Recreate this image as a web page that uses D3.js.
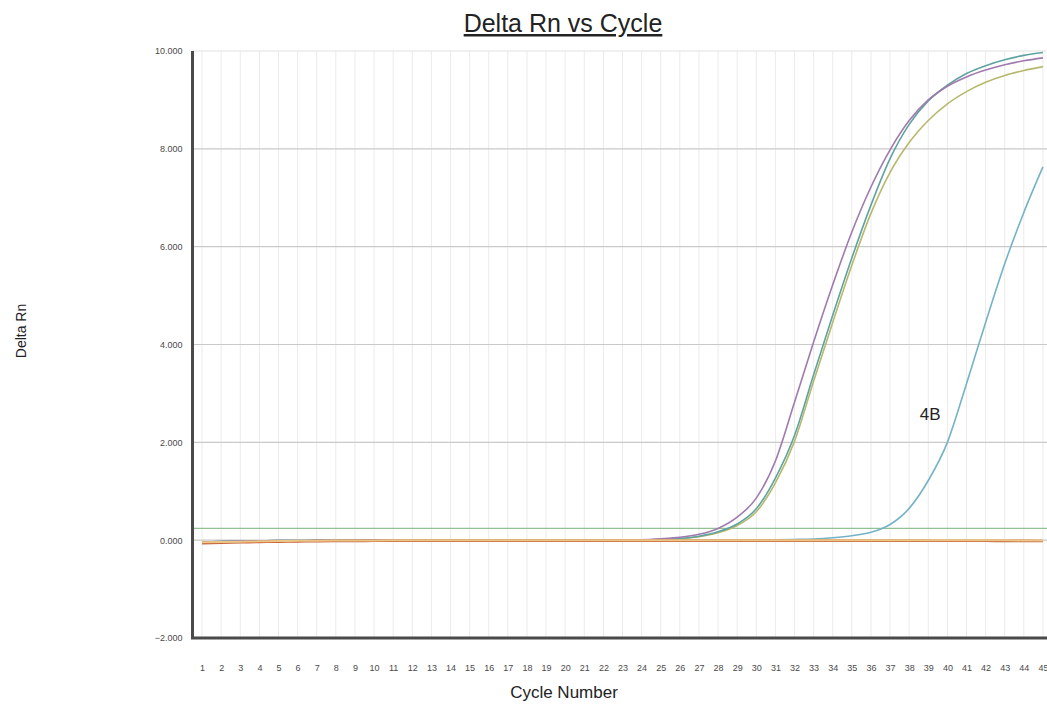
<!DOCTYPE html>
<html>
<head>
<meta charset="utf-8">
<script src="https://cdn.jsdelivr.net/npm/d3@7"></script>
<style>
  body { margin: 0; background: #fff; }
  text { font-family: "Liberation Sans", Arial, sans-serif; }
</style>
</head>
<body>
<div id="chart"></div>
<script>
// cycle numbers on the x axis
var cycles = d3.range(1, 46);
var yTicks = [-2, 0, 2, 4, 6, 8, 10];
var threshold = 0.24;

// amplification curves (Delta Rn per cycle)
var purpleRn = [-0.04,-0.03,-0.02,-0.015,-0.01,-0.01,-0.005,-0.005,0,0,
  0,0,0,0,0, 0,0,0,0,0, 0,0,0.005,0.01,0.03,
  0.06,0.12,0.24,0.47,0.86, 1.62,2.82,4.05,5.22,6.3,
  7.22,7.98,8.58,9.0,9.28, 9.47,9.61,9.72,9.8,9.86];

var tealRn = [-0.04,-0.03,-0.02,-0.015,-0.01,-0.01,-0.005,-0.005,0,0,
  0,0,0,0,0, 0,0,0,0,0, 0,0,0,0.005,0.015,
  0.035,0.08,0.17,0.33,0.64, 1.27,2.14,3.38,4.6,5.77,
  6.85,7.8,8.5,8.98,9.3, 9.54,9.7,9.82,9.91,9.97];

var oliveRn = [-0.04,-0.03,-0.02,-0.015,-0.01,-0.01,-0.005,-0.005,0,0,
  0,0,0,0,0, 0,0,0,0,0, 0,0,0,0.005,0.012,
  0.03,0.07,0.15,0.3,0.58, 1.17,2.02,3.25,4.45,5.62,
  6.68,7.52,8.13,8.58,8.92, 9.17,9.36,9.5,9.6,9.68];

var blue4BRn = [-0.04,-0.03,-0.02,-0.015,-0.01,-0.01,-0.005,-0.005,0,0,
  0,0,0,0,0, 0,0,0,0,0, 0,0,0,0,0,
  0,0,0,0,0.005, 0.01,0.015,0.025,0.05,0.09,
  0.16,0.32,0.65,1.22,2.0, 3.2,4.45,5.65,6.7,7.63];

// flat (negative) wells
var orangeRn = [-0.06,-0.052,-0.044,-0.036,-0.03,-0.025,-0.02,-0.018,-0.015,-0.013,
  -0.012,-0.011,-0.01,-0.01,-0.01, -0.01,-0.01,-0.01,-0.01,-0.01,
  -0.01,-0.01,-0.01,-0.01,-0.01, -0.01,-0.01,-0.01,-0.01,-0.01,
  -0.01,-0.01,-0.01,-0.01,-0.01, -0.01,-0.01,-0.01,-0.01,-0.012,
  -0.012,-0.013,-0.014,-0.015,-0.016];

var yellowRn = [-0.045,-0.038,-0.03,-0.024,-0.018,-0.014,-0.01,-0.008,-0.006,-0.005,
  -0.004,-0.003,-0.003,-0.003,-0.003, -0.003,-0.003,-0.003,-0.003,-0.003,
  -0.003,-0.003,-0.003,-0.003,-0.003, -0.003,-0.003,-0.003,-0.003,-0.003,
  -0.003,-0.003,-0.003,-0.003,-0.003, -0.003,-0.003,-0.003,-0.003,-0.003,
  -0.003,-0.004,-0.004,-0.005,-0.005];

// drawn in this order, flat wells on top
var series = [
  { name: "4B", values: blue4BRn, color: "#74b3c6", width: 1.6 },
  { name: "olive", values: oliveRn, color: "#b7b86c", width: 1.6 },
  { name: "teal", values: tealRn, color: "#5fa3a0", width: 1.6 },
  { name: "purple", values: purpleRn, color: "#a07aae", width: 1.6 },
  { name: "orange", values: orangeRn, color: "#c8643a", width: 2.6 },
  { name: "yellow", values: yellowRn, color: "#ebc687", width: 2 }
];

var svgWidth = 1047;
var svgHeight = 704;

var margin = { top: 51, left: 192.5 };
var width = 860;
var height = 587;

var svg = d3.select("#chart")
  .append("svg")
  .attr("width", svgWidth)
  .attr("height", svgHeight);

var chartGroup = svg.append("g")
  .attr("transform", `translate(${margin.left}, ${margin.top})`);

var x = d3.scaleLinear()
  .domain([0.5, 45.5])
  .range([0, width]);

var y = d3.scaleLinear()
  .domain([-2, 10])
  .range([height, 0]);

// vertical grid (one per cycle)
chartGroup.append("g")
  .selectAll("line")
  .data(cycles)
  .enter()
  .append("line")
  .attr("x1", d => x(d))
  .attr("x2", d => x(d))
  .attr("y1", 0)
  .attr("y2", height)
  .attr("stroke", "#ebebeb")
  .attr("stroke-width", 1);

// horizontal grid
chartGroup.append("g")
  .selectAll("line")
  .data(yTicks.filter(d => d > -2))
  .enter()
  .append("line")
  .attr("x1", 0)
  .attr("x2", width)
  .attr("y1", d => y(d))
  .attr("y2", d => y(d))
  .attr("stroke", d => d === 10 ? "#e2e2e2" : "#c9c9c9")
  .attr("stroke-width", 1.2);

// threshold line
chartGroup.append("line")
  .attr("x1", 0)
  .attr("x2", width)
  .attr("y1", y(threshold))
  .attr("y2", y(threshold))
  .attr("stroke", "#93c193")
  .attr("stroke-width", 1.3);

// curves
var line = d3.line()
  .x((d, i) => x(cycles[i]))
  .y(d => y(d))
  .curve(d3.curveMonotoneX);

chartGroup.append("g")
  .selectAll("path")
  .data(series)
  .enter()
  .append("path")
  .attr("d", d => line(d.values))
  .attr("fill", "none")
  .attr("stroke", d => d.color)
  .attr("stroke-width", d => d.width);

// axes (labels only, lines drawn by hand)
var leftAxis = d3.axisLeft(y)
  .tickValues(yTicks)
  .tickFormat(d3.format(".3f"))
  .tickSize(0)
  .tickPadding(10);

var bottomAxis = d3.axisBottom(x)
  .tickValues(cycles)
  .tickFormat(d3.format("d"))
  .tickSize(0)
  .tickPadding(27);

var yAxis = chartGroup.append("g").call(leftAxis);
var xAxis = chartGroup.append("g")
  .attr("transform", `translate(0, ${height})`)
  .call(bottomAxis);

yAxis.select(".domain").remove();
xAxis.select(".domain").remove();
yAxis.selectAll("text")
  .attr("font-size", "9px")
  .attr("fill", "#4a4a4a")
  .attr("font-family", "Liberation Sans, Arial, sans-serif");
xAxis.selectAll("text")
  .attr("font-size", "9px")
  .attr("fill", "#4a4a4a")
  .attr("font-family", "Liberation Sans, Arial, sans-serif");

// axis lines
chartGroup.append("line")
  .attr("x1", 0).attr("x2", 0)
  .attr("y1", 0).attr("y2", height + 1)
  .attr("stroke", "#4a4a4a")
  .attr("stroke-width", 3);

chartGroup.append("line")
  .attr("x1", -1.5).attr("x2", width)
  .attr("y1", height).attr("y2", height)
  .attr("stroke", "#4a4a4a")
  .attr("stroke-width", 3);

// curve label
chartGroup.append("text")
  .attr("x", x(38.55))
  .attr("y", y(2.55))
  .attr("font-size", "17px")
  .attr("fill", "#222")
  .attr("dominant-baseline", "middle")
  .text("4B");

// title
svg.append("text")
  .attr("x", 563)
  .attr("y", 32)
  .attr("text-anchor", "middle")
  .attr("font-size", "25px")
  .attr("fill", "#222")
  .attr("text-decoration", "underline")
  .text("Delta Rn vs Cycle");

svg.append("text")
  .attr("x", 564)
  .attr("y", 698)
  .attr("text-anchor", "middle")
  .attr("font-size", "17px")
  .attr("fill", "#222")
  .text("Cycle Number");

svg.append("text")
  .attr("transform", "translate(26, 331) rotate(-90)")
  .attr("text-anchor", "middle")
  .attr("font-size", "14px")
  .attr("fill", "#222")
  .text("Delta Rn");
</script>
</body>
</html>
